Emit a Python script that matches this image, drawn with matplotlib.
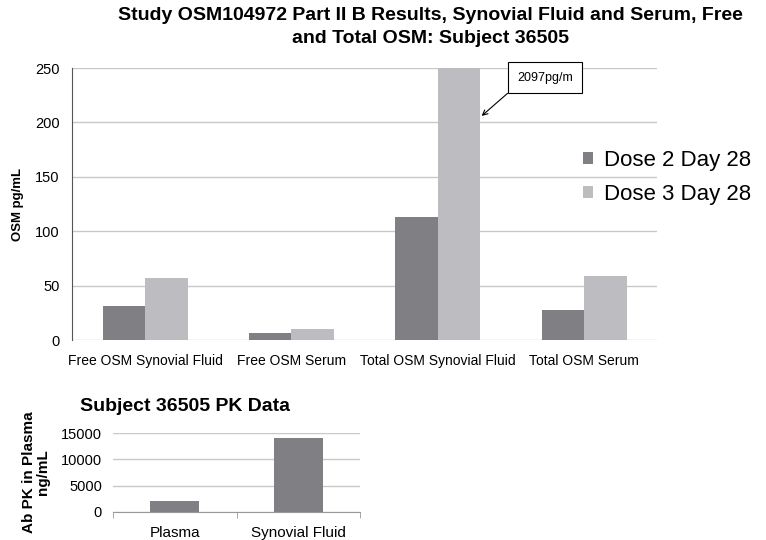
import matplotlib
matplotlib.use('Agg')
import matplotlib.pyplot as plt
import numpy as np

# data
categories = ['Free OSM Synovial Fluid', 'Free OSM Serum', 'Total OSM Synovial Fluid', 'Total OSM Serum']
dose2 = [31, 7, 113, 28]
dose3 = [57, 10, 2097, 59]
series_names = ['Dose 2 Day 28', 'Dose 3 Day 28']
pk_categories = ['Plasma', 'Synovial Fluid']
pk_values = [2000, 14000]

plt.rcParams['font.family'] = ['Liberation Sans', 'DejaVu Sans']

c_dark = '#7f7f84'
c_light = '#bdbdc1'
c_grid = '#c8c8c8'

fig = plt.figure(figsize=(7.66, 5.40), dpi=100, facecolor='white')

# main chart
ax = fig.add_axes([0.094, 0.370, 0.764, 0.504])
x = np.arange(len(categories))
w = 0.29
ax.bar(x - w / 2, dose2, w, color=c_dark, label=series_names[0], zorder=2)
ax.bar(x + w / 2, dose3, w, color=c_light, label=series_names[1], zorder=2)
ax.set_ylim(0, 250)
ax.set_xlim(-0.5, 3.5)
ax.set_yticks(range(0, 251, 50))
ax.yaxis.grid(True, color=c_grid, linewidth=1, zorder=0)
for s in ['top', 'right', 'bottom']:
    ax.spines[s].set_visible(False)
ax.spines['left'].set_color('#555555')
ax.tick_params(axis='y', length=0, labelsize=10.5, pad=9)
ax.tick_params(axis='x', length=0, pad=10)
ax.set_xticks(x)
ax.set_xticklabels(categories, fontsize=10)
ax.set_ylabel('OSM pg/mL', fontsize=9.5, fontweight='bold', labelpad=8)
fig.text(430 / 766, 1 - 7 / 540,
         'Study OSM104972 Part II B Results, Synovial Fluid and Serum, Free\nand Total OSM: Subject 36505',
         fontsize=14, fontweight='bold', ha='center', va='top', linespacing=1.45)
ax.legend(loc='upper left', bbox_to_anchor=(0.873, 0.70), frameon=False,
          fontsize=16, handlelength=0.45, handleheight=0.45,
          handletextpad=0.5, labelspacing=0.6, borderaxespad=0, borderpad=0)

# callout for clipped bar
ax.annotate('2097pg/m', xy=(2.30, 206), xytext=(2.734, 241), textcoords='data',
            fontsize=9, ha='center', va='center',
            bbox=dict(boxstyle='square,pad=0.75', fc='white', ec='black', lw=0.8),
            arrowprops=dict(arrowstyle='->', color='black', lw=0.8,
                            shrinkA=0, shrinkB=0, relpos=(0.02, 0)),
            annotation_clip=False, zorder=5)

# PK chart
ax2 = fig.add_axes([0.1475, 0.052, 0.3225, 0.146])
x2 = np.arange(len(pk_categories))
ax2.bar(x2, pk_values, 0.4, color=c_dark, zorder=2)
ax2.set_xlim(-0.5, 1.5)
ax2.set_ylim(0, 15000)
ax2.set_yticks(range(0, 15001, 5000))
ax2.yaxis.grid(True, color=c_grid, linewidth=1, zorder=0)
for s in ['top', 'right', 'left']:
    ax2.spines[s].set_visible(False)
ax2.spines['bottom'].set_color('#999999')
ax2.set_xticks([-0.5, 0.5, 1.5], minor=True)
ax2.tick_params(axis='x', which='minor', length=4, color='#999999')
ax2.tick_params(axis='x', which='major', length=0, pad=10, labelsize=11)
ax2.tick_params(axis='y', length=0, labelsize=10.5, pad=8)
ax2.set_xticks(x2)
ax2.set_xticklabels(pk_categories)
ax2.set_ylabel('Ab PK in Plasma\nng/mL', fontsize=11, fontweight='bold', labelpad=8, linespacing=0.95)
ax2.set_title('Subject 36505 PK Data', fontsize=14, fontweight='bold', pad=16, x=0.29)

fig.savefig('out.png', dpi=100, facecolor='white')
